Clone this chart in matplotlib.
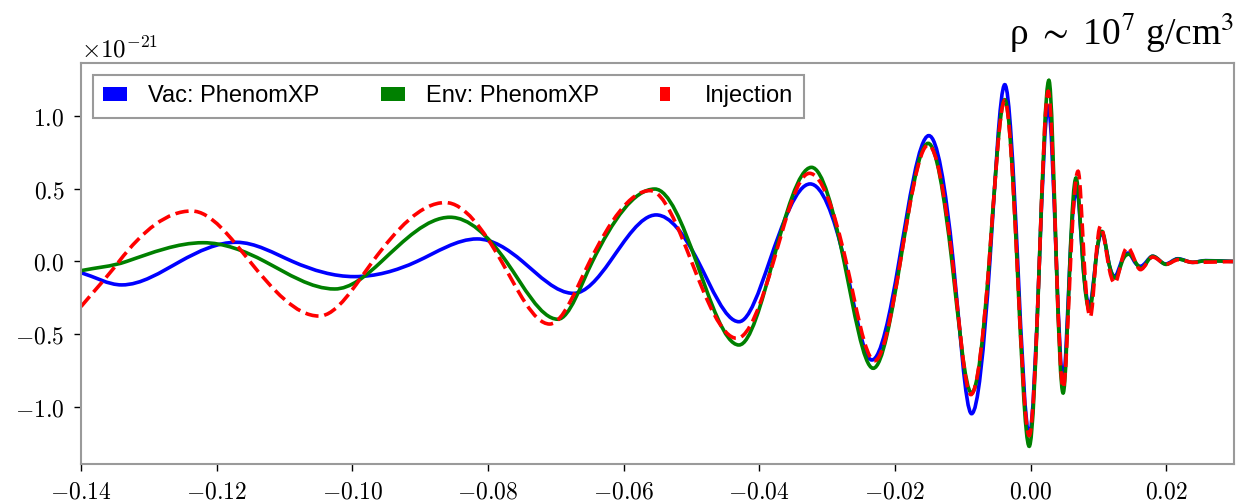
import matplotlib
matplotlib.use("Agg")
import matplotlib.pyplot as plt
import numpy as np
from matplotlib.legend_handler import HandlerPatch
from matplotlib.patches import Patch, PathPatch, Rectangle
from matplotlib.path import Path

# strain in units of 1e-21, read at extrema and zero crossings
vac_t = [-0.1400, -0.1340, -0.1254, -0.1171, -0.1088, -0.0997, -0.0905, -0.0816, -0.0749,
         -0.0674, -0.0620, -0.0552, -0.0490, -0.0430, -0.0385, -0.0325, -0.0274, -0.0234,
         -0.0194, -0.0150, -0.0114, -0.0087, -0.0060, -0.0038, -0.0019, -0.0002, 0.0013,
         0.0026, 0.0038, 0.0048, 0.0058, 0.0068, 0.0077, 0.0087, 0.0096, 0.0105, 0.0115,
         0.0124, 0.0134, 0.0144, 0.0153, 0.0162, 0.0171, 0.0180, 0.0199, 0.0217, 0.0239,
         0.0258, 0.0300]
vac_h = [-0.077, -0.161, 0.0, 0.132, 0.0, -0.104, 0.0, 0.155, 0.0,
         -0.219, 0.0, 0.320, 0.0, -0.414, 0.0, 0.533, 0.0, -0.677,
         0.0, 0.865, 0.0, -1.046, 0.0, 1.215, 0.0, -1.190, 0.0,
         1.067, 0.0, -0.812, 0.0, 0.494, 0.0, -0.297, 0.0, 0.196, 0.0,
         -0.102, 0.0, 0.058, 0.0, -0.033, 0.0, 0.036, -0.017, 0.019, -0.006,
         0.006, 0.0]

env_t = [-0.1400, -0.1333, -0.1220, -0.1129, -0.1026, -0.0957, -0.0856, -0.0773, -0.0697,
         -0.0646, -0.0554, -0.0493, -0.0430, -0.0380, -0.0323, -0.0275, -0.0232, -0.0192,
         -0.0151, -0.0116, -0.0087, -0.0061, -0.0038, -0.0020, -0.0002, 0.0013, 0.0027,
         0.0038, 0.0048, 0.0058, 0.0067, 0.0077, 0.0087, 0.0096, 0.0105, 0.0115, 0.0125,
         0.0135, 0.0145, 0.0163, 0.0180, 0.0200, 0.0217, 0.0239, 0.0258, 0.0300]
env_h = [-0.063, 0.0, 0.129, 0.0, -0.189, 0.0, 0.304, 0.0, -0.397,
         0.0, 0.498, 0.0, -0.574, 0.0, 0.647, 0.0, -0.734, 0.0,
         0.812, 0.0, -0.904, 0.0, 1.112, 0.0, -1.270, 0.0, 1.245,
         0.0, -0.904, 0.0, 0.574, 0.0, -0.331, 0.0, 0.207, 0.0, -0.114,
         0.0, 0.050, -0.047, 0.036, -0.020, 0.017, -0.006, 0.005, 0.0]

inj_t = [-0.1400, -0.1344, -0.1237, -0.1151, -0.1049, -0.0970, -0.0863, -0.0780, -0.0709,
         -0.0650, -0.0561, -0.0500, -0.0433, -0.0379, -0.0326, -0.0272, -0.0230, -0.0192,
         -0.0151, -0.0115, -0.0088, -0.0061, -0.0038, -0.0020, -0.0002, 0.0013, 0.0026,
         0.0038, 0.0048, 0.0059, 0.0070, 0.0079, 0.0088, 0.0096, 0.0103, 0.0114, 0.0124,
         0.0134, 0.0143, 0.0162, 0.0180, 0.0200, 0.0218, 0.0240, 0.0300]
inj_h = [-0.310, 0.0, 0.347, 0.0, -0.375, 0.0, 0.405, 0.0, -0.430,
         0.0, 0.487, 0.0, -0.528, 0.0, 0.606, 0.0, -0.682, 0.0,
         0.800, 0.0, -0.915, 0.0, 1.107, 0.0, -1.197, 0.0, 1.170,
         0.0, -0.869, 0.0, 0.620, 0.0, -0.381, 0.0, 0.242, 0.0, -0.148,
         0.0, 0.097, -0.056, 0.030, -0.018, 0.012, -0.006, 0.0]

x_ticks = [-0.14, -0.12, -0.10, -0.08, -0.06, -0.04, -0.02, 0.00, 0.02]
y_ticks = [-1.0, -0.5, 0.0, 0.5, 1.0]
labels = ["Vac: PhenomXP", "Env: PhenomXP", "Injection"]
colors = ["#0000ff", "#008000", "#ff0000"]

plt.rcParams["mathtext.fontset"] = "cm"
SPINE = "#9a9a9a"


def smooth_path(t, h):
    # cubic bezier through the read points, flat at the extrema
    t = np.asarray(t, dtype=float)
    h = np.asarray(h, dtype=float)
    n = len(t)
    slope = np.zeros(n)
    for i in range(n):
        if i == 0:
            slope[i] = (h[1] - h[0]) / (t[1] - t[0])
        elif i == n - 1:
            slope[i] = (h[-1] - h[-2]) / (t[-1] - t[-2])
        elif (h[i] - h[i - 1]) * (h[i + 1] - h[i]) <= 0:
            slope[i] = 0.0
        else:
            slope[i] = 1.5 * (h[i + 1] - h[i - 1]) / (t[i + 1] - t[i - 1])
    verts = [(t[0], h[0])]
    codes = [Path.MOVETO]
    for i in range(n - 1):
        dt = t[i + 1] - t[i]
        verts += [(t[i] + dt / 3, h[i] + slope[i] * dt / 3),
                  (t[i + 1] - dt / 3, h[i + 1] - slope[i + 1] * dt / 3),
                  (t[i + 1], h[i + 1])]
        codes += [Path.CURVE4] * 3
    return Path(verts, codes)


def narrow_patch(legend, orig_handle, xdescent, ydescent, width, height, fontsize):
    return Rectangle((-xdescent, -ydescent), 0.4 * width, height)


fig = plt.figure(figsize=(12.39, 5.03), dpi=100)
ax = fig.add_axes([0.0654, 0.0775, 0.9306, 0.7972])

series = [(vac_t, vac_h, "-"), (env_t, env_h, "-"), (inj_t, inj_h, "--")]
for (t, h, ls), color in zip(series, colors):
    ax.add_patch(PathPatch(smooth_path(t, h), facecolor="none", edgecolor=color,
                           linewidth=2.6, linestyle=ls))

ax.set_xlim(-0.14, 0.03)
ax.set_ylim(-1.392, 1.364)
ax.set_xticks(x_ticks, [f"${v:.2f}$" for v in x_ticks])
ax.set_yticks(y_ticks, [f"${v:.1f}$" for v in y_ticks])
ax.tick_params(labelsize=17, length=5, width=1.0, color="black")
ax.tick_params(axis="x", pad=6)
ax.tick_params(axis="y", pad=7)
for spine in ax.spines.values():
    spine.set_color(SPINE)
    spine.set_linewidth(1.5)

ax.text(0.0, 1.002, r"$\times10^{-21}$", transform=ax.transAxes, fontsize=18,
        ha="left", va="bottom")
ax.text(1.0, 1.02, r"ρ $\sim$ 10$^{7}$ g/cm$^{3}$", transform=ax.transAxes, fontsize=27,
        ha="right", va="bottom", family=["Liberation Serif", "DejaVu Serif"],
        math_fontfamily="stix")

handles = [Patch(facecolor=c, edgecolor="none") for c in colors]
leg = ax.legend(handles, labels, loc="upper left", ncol=3,
                prop={"family": "Liberation Sans", "size": 17},
                handlelength=1.0, handleheight=0.5, handletextpad=0.9,
                columnspacing=2.6, borderpad=0.45, fancybox=False,
                edgecolor=SPINE, framealpha=1.0,
                handler_map={handles[2]: HandlerPatch(patch_func=narrow_patch)})
leg.get_frame().set_linewidth(1.5)

fig.savefig("out.png", dpi=100)
plt.close(fig)
